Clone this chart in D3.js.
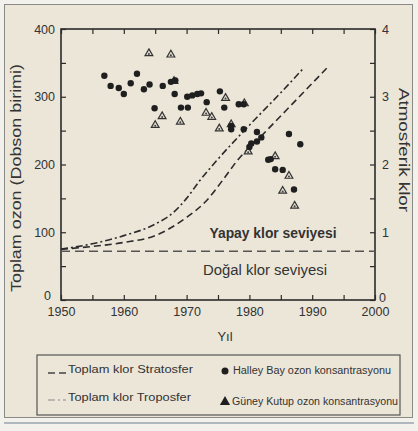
<!DOCTYPE html>
<html><head><meta charset="utf-8">
<script src="https://cdn.jsdelivr.net/npm/d3@7"></script>
<style>
html,body{margin:0;padding:0;background:#f3f1ec;}
svg{display:block;}
text{font-family:"Liberation Sans",Arial,sans-serif;fill:#333;}
</style></head><body>
<svg id="c" width="418" height="431"></svg>
<script>
// ---- data ----
const halleyYears = [1956.9,1957.9,1959.2,1960.0,1961.1,1962.1,1963.2,1964.1,1964.9,1966.2,1967.5,1968.2,1968.1,1969.1,1970.2,1970.1,1970.9,1971.7,1972.3,1973.2,1975.3,1976.0,1977.1,1977.1,1978.3,1979.1,1979.1,1980.0,1980.3,1981.2,1981.2,1981.9,1983.0,1983.4,1984.1,1985.3,1986.3,1987.1,1988.1];
const halleyOzone = [331,316,313,304,320,334,311,318,283,316,322,324,304,284,284,300,302,304,305,292,308,284,257,252,289,289,252,226,231,248,234,240,207,208,193,192,245,163,230];
const poleYears = [1964.0,1967.5,1965.0,1966.1,1969.0,1968.0,1973.1,1974.0,1975.2,1976.2,1977.1,1979.2,1979.8,1984.1,1986.3,1985.3,1987.2];
const poleOzone = [364,362,258,271,263,323,276,270,253,298,259,290,219,212,183,161,139];
const tropYears = [1950,1955,1960,1965,1968,1970,1972,1975,1980,1985,1988.6];
const tropChlorine = [0.75,0.83,0.95,1.12,1.30,1.50,1.75,2.08,2.58,3.06,3.42];
const stratYears = [1950,1955,1960,1965,1970,1973,1976,1978,1982,1987,1992.3];
const stratChlorine = [0.75,0.79,0.85,0.95,1.22,1.45,1.80,2.05,2.43,2.91,3.42];
const naturalYears = [1950,2000];
const naturalChlorine = [0.72,0.72];
const xTicks = [1950,1960,1970,1980,1990,2000];
const yLeftTicks = [0,100,200,300,400];
const yRightTicks = [0,1,2,3,4];
const legendLabels = ["Toplam klor Stratosfer","Toplam klor Troposfer","Halley Bay ozon konsantrasyonu","Güney Kutup ozon konsantrasyonu"];

// ---- drawing ----
const svg = d3.select("#c");
const ink = "#2b2b2b";
svg.append("rect").attr("x",4.5).attr("y",4.5).attr("width",408).attr("height",413)
  .attr("fill","#ebe6d8").attr("stroke","#8a8a86").attr("stroke-width",1);
svg.append("line").attr("x1",4).attr("x2",414).attr("y1",423).attr("y2",423)
  .attr("stroke","#9aa3b0").attr("stroke-width",1.5);

const x = d3.scaleLinear().domain([1950,2000]).range([61,375]);
const yL = d3.scaleLinear().domain([0,400]).range([300,29]);
const yR = d3.scaleLinear().domain([0,4]).range([300,29]);

const g = svg.append("g");
g.append("rect").attr("x",x(1950)).attr("y",yL(400)).attr("width",x(2000)-x(1950)).attr("height",yL(0)-yL(400))
  .attr("fill","none").attr("stroke",ink).attr("stroke-width",1.6);

function styleAxis(sel){
  sel.select(".domain").remove();
  sel.selectAll(".tick line").attr("stroke",ink).attr("stroke-width",1.2);
  sel.selectAll(".tick text").style("font-size","12.5px").attr("fill","#333");
}
const minorX = d3.range(1950,2001,5), minorY = d3.range(0,401,50), minorR = d3.range(0,4.01,0.5);
g.append("g").attr("transform",`translate(0,${yL(0)})`)
  .call(d3.axisBottom(x).tickValues(minorX).tickSizeInner(-5).tickSizeOuter(0).tickFormat(""))
  .call(styleAxis);
g.append("g").attr("transform",`translate(0,${yL(400)})`)
  .call(d3.axisTop(x).tickValues(minorX).tickSizeInner(-5).tickSizeOuter(0).tickFormat(""))
  .call(styleAxis);
g.append("g").attr("transform",`translate(${x(1950)},0)`)
  .call(d3.axisLeft(yL).tickValues(minorY).tickSizeInner(-5).tickSizeOuter(0).tickFormat(""))
  .call(styleAxis);
g.append("g").attr("transform",`translate(${x(2000)},0)`)
  .call(d3.axisRight(yR).tickValues(minorR).tickSizeInner(-5).tickSizeOuter(0).tickFormat(""))
  .call(styleAxis);
g.append("g").attr("transform",`translate(0,${yL(0)})`)
  .call(d3.axisBottom(x).tickValues(xTicks).tickSize(0).tickPadding(7).tickFormat(d3.format("d")))
  .call(styleAxis);
const leftLab = g.append("g").attr("transform",`translate(${x(1950)},0)`)
  .call(d3.axisLeft(yL).tickValues(yLeftTicks).tickSize(0).tickPadding(6))
  .call(styleAxis);
leftLab.selectAll(".tick").filter(d=>d===0).select("text").attr("dy","-0.05em").attr("x",-10);
const rightLab = g.append("g").attr("transform",`translate(${x(2000)},0)`)
  .call(d3.axisRight(yR).tickValues(yRightTicks).tickSize(0).tickPadding(7).tickFormat(d3.format("d")))
  .call(styleAxis);
rightLab.selectAll(".tick").filter(d=>d===0).select("text").attr("dy","0.1em").attr("x",4);

svg.append("text").attr("transform","translate(21,178) rotate(-90)").attr("text-anchor","middle")
  .style("font-size","14px").attr("textLength",228).attr("lengthAdjust","spacingAndGlyphs")
  .text("Toplam ozon (Dobson birimi)");
svg.append("text").attr("transform","translate(399,150) rotate(90)").attr("text-anchor","middle")
  .style("font-size","14px").attr("textLength",124).attr("lengthAdjust","spacingAndGlyphs")
  .text("Atmosferik klor");
svg.append("text").attr("x",225).attr("y",341).attr("text-anchor","middle")
  .style("font-size","13px").text("Yıl");

const line = d3.line().x(d=>x(d[0])).y(d=>yR(d[1])).curve(d3.curveMonotoneX);
const trop = tropYears.map((d,i)=>[d,tropChlorine[i]]);
const strat = stratYears.map((d,i)=>[d,stratChlorine[i]]);
const nat = naturalYears.map((d,i)=>[d,naturalChlorine[i]]);
g.append("path").datum(trop).attr("d",line).attr("fill","none").attr("stroke",ink)
  .attr("stroke-width",1.6).attr("stroke-dasharray","7,3,2,3");
g.append("path").datum(strat).attr("d",line).attr("fill","none").attr("stroke",ink)
  .attr("stroke-width",1.6).attr("stroke-dasharray","7,4");
g.append("path").datum(nat).attr("d",line).attr("fill","none").attr("stroke","#555")
  .attr("stroke-width",1.4).attr("stroke-dasharray","9,5");

svg.append("text").attr("x",273).attr("y",238).attr("text-anchor","middle")
  .style("font-size","14px").style("font-weight","600").attr("fill","#2e2e2e")
  .attr("textLength",127).attr("lengthAdjust","spacingAndGlyphs").text("Yapay klor seviyesi");
svg.append("text").attr("x",265).attr("y",275).attr("text-anchor","middle")
  .style("font-size","14px").attr("fill","#3a3a3a")
  .attr("textLength",124).attr("lengthAdjust","spacingAndGlyphs").text("Doğal klor seviyesi");

const halley = halleyYears.map((d,i)=>[d,halleyOzone[i]]);
const pole = poleYears.map((d,i)=>[d,poleOzone[i]]);
const tri = d3.symbol().type(d3.symbolTriangle).size(26);
const pg = g.selectAll(".pole").data(pole).join("g").attr("class","pole")
  .attr("transform",d=>`translate(${x(d[0])},${yL(d[1])})`);
pg.append("path").attr("d",tri).attr("fill","#e2ddd0").attr("stroke","#333").attr("stroke-width",1.2);
pg.append("circle").attr("r",1).attr("cy",0.5).attr("fill","#444");
g.selectAll(".halley").data(halley).join("circle").attr("class","halley")
  .attr("cx",d=>x(d[0])).attr("cy",d=>yL(d[1])).attr("r",3.2).attr("fill","#1f1f1f");

const lg = svg.append("g");
lg.append("rect").attr("x",37).attr("y",355).attr("width",363).attr("height",60)
  .attr("fill","#ebe6d8").attr("stroke","#555").attr("stroke-width",1.2);
lg.append("line").attr("x1",48).attr("x2",66).attr("y1",373).attr("y2",373)
  .attr("stroke","#444").attr("stroke-width",1.3).attr("stroke-dasharray","7,4");
lg.append("line").attr("x1",48).attr("x2",66).attr("y1",400).attr("y2",400)
  .attr("stroke","#888").attr("stroke-width",1.1).attr("stroke-dasharray","7,3,2,3");
lg.append("text").attr("x",68).attr("y",373).style("font-size","11px").attr("textLength",125)
  .attr("lengthAdjust","spacingAndGlyphs").text(legendLabels[0]);
lg.append("text").attr("x",68).attr("y",401).style("font-size","11px").attr("textLength",123)
  .attr("lengthAdjust","spacingAndGlyphs").text(legendLabels[1]);
lg.append("circle").attr("cx",225).attr("cy",371).attr("r",3.5).attr("fill","#1f1f1f");
lg.append("path").attr("transform","translate(225,402)").attr("d",d3.symbol().type(d3.symbolTriangle).size(45)).attr("fill","#1f1f1f");
lg.append("text").attr("x",233).attr("y",374).style("font-size","10px").attr("textLength",158)
  .attr("lengthAdjust","spacingAndGlyphs").text(legendLabels[2]);
lg.append("text").attr("x",232).attr("y",405).style("font-size","10px").attr("textLength",166)
  .attr("lengthAdjust","spacingAndGlyphs").text(legendLabels[3]);
</script></body></html>
